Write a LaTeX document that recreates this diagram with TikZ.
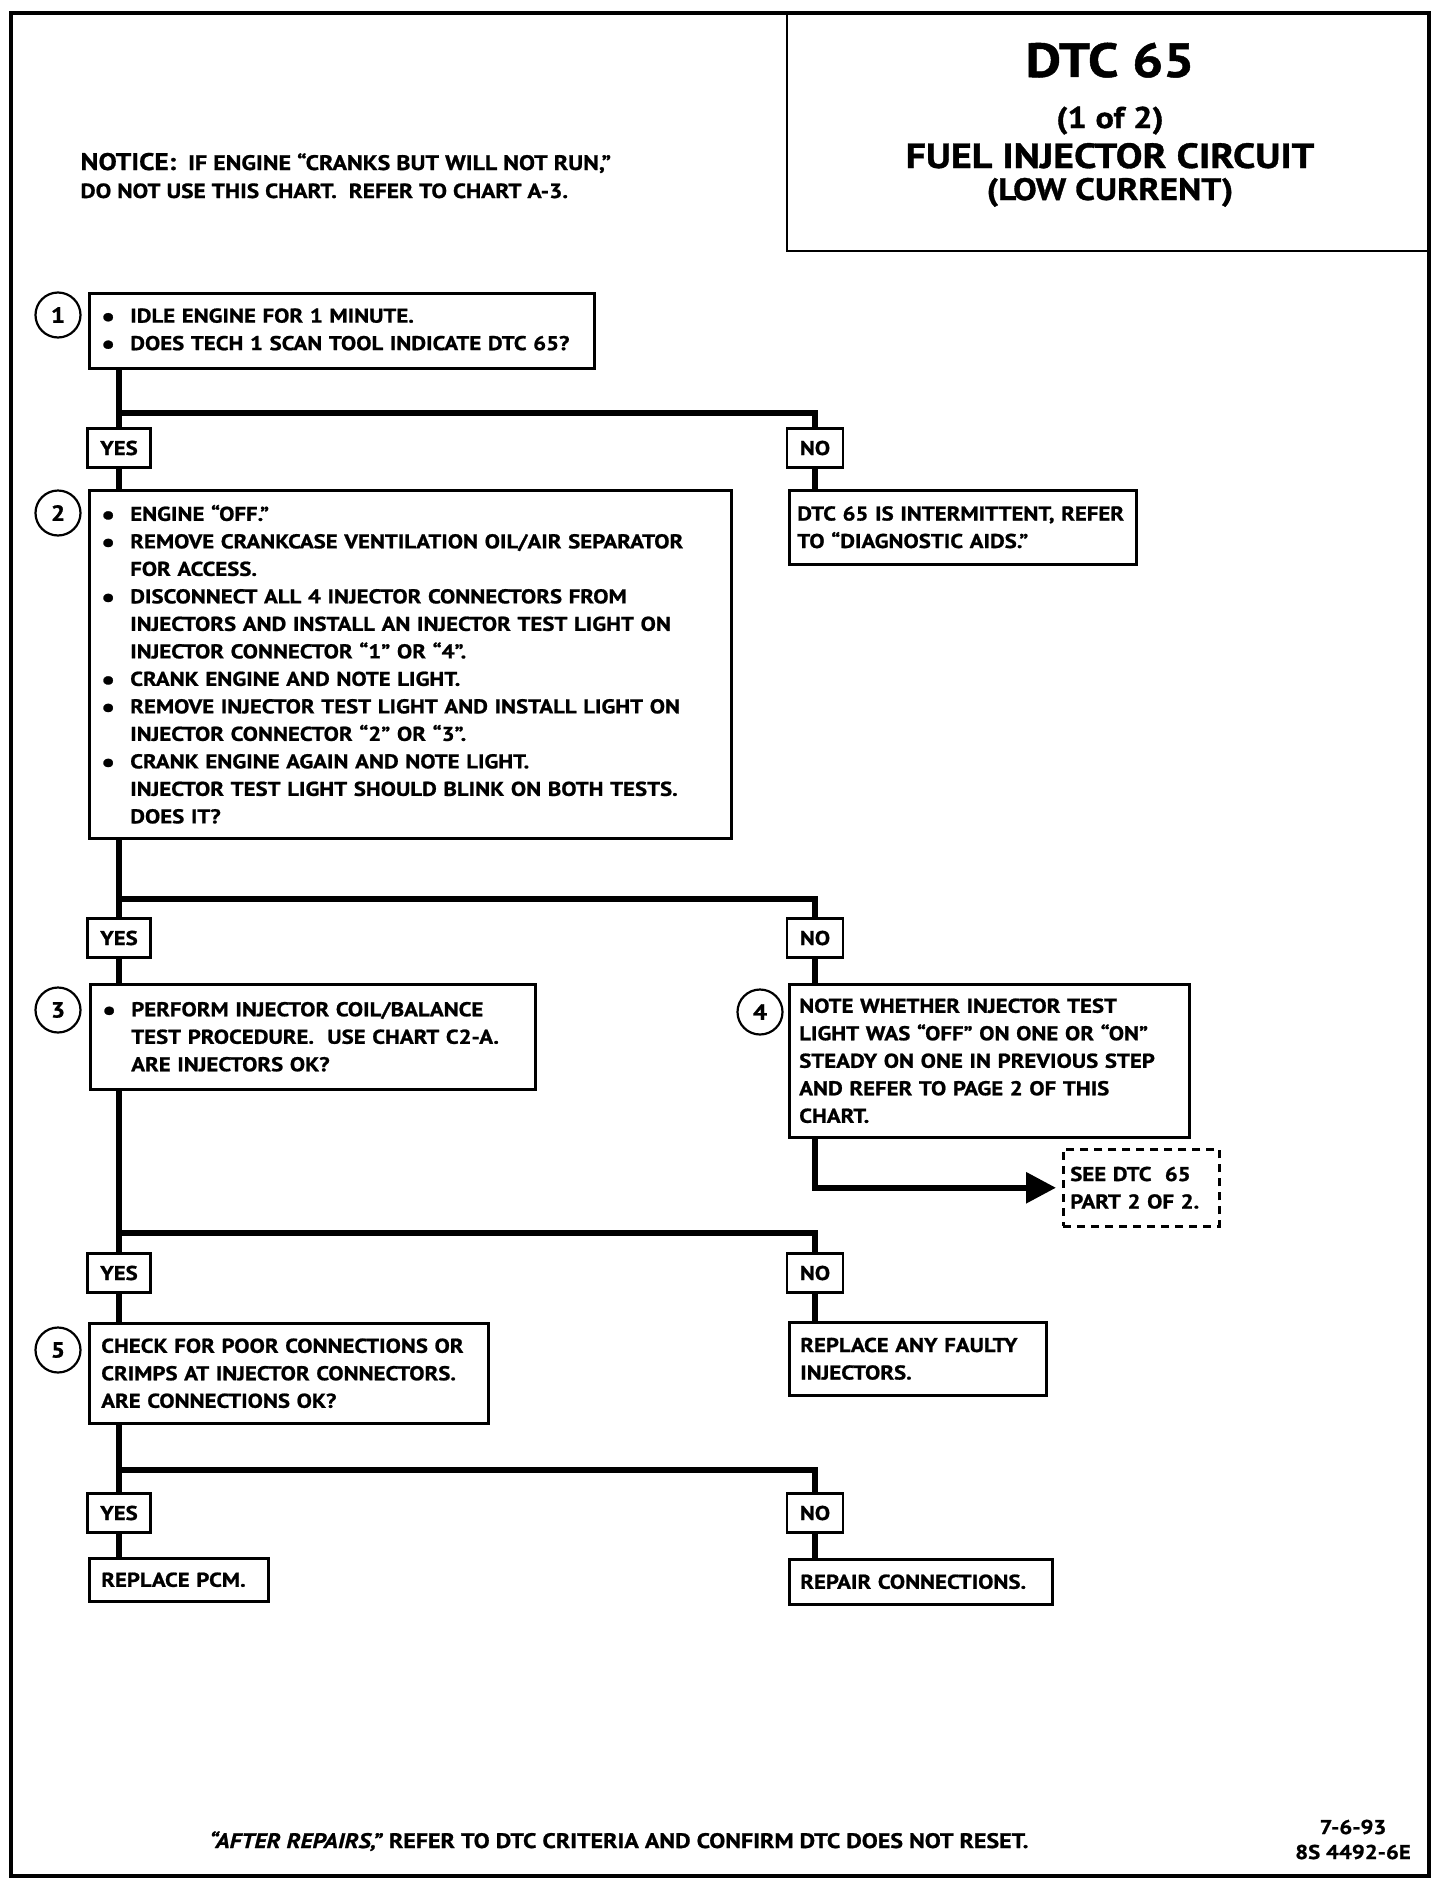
\documentclass[tikz,border=0pt]{standalone}
\usepackage{fontspec}
\setmainfont{PT Sans}[FakeStretch=1.14, BoldFeatures={FakeBold=1}, BoldItalicFeatures={FakeBold=1}]
\usetikzlibrary{arrows.meta, calc}
\newcommand\bodyfont{\fontsize{20}{27.5}\selectfont\bfseries}
\newcommand\itembul{\makebox[29pt][l]{\raisebox{-3pt}{\fontsize{27}{27}\selectfont\textbullet}}}
\newcommand\itemind{\hspace*{29pt}}
\tikzset{
  stepbox/.style={draw, line width=2.5pt, anchor=north west, align=left, inner xsep=12pt, inner ysep=4pt, font=\bodyfont},
  answer/.style={draw, line width=2.5pt, minimum height=39pt, inner sep=0pt, font=\bodyfont},
  stepnum/.style={circle, draw, line width=2.2pt, minimum size=45pt, inner sep=0pt, font=\fontsize{22}{22}\selectfont\bfseries},
  flow/.style={line width=6pt},
  linkbox/.style={stepbox, dashed, dash pattern=on 8pt off 6pt}
}

\begin{document}
\begin{tikzpicture}[x=1pt, y=-1pt]
\useasboundingbox (0,0) rectangle (1440,1884);
\draw[line width=4pt] (11,13) rectangle (1429,1876);

% title block
\draw[line width=2.5pt] (787,13) rectangle (1429,251);
\node[anchor=base, font=\fontsize{48}{48}\selectfont\bfseries] (t1) at (1110,77) {DTC 65};
\node[anchor=base, font=\fontsize{30}{30}\selectfont\bfseries] (t2) at (1110,128) {(1 of 2)};
\node[anchor=base, font=\fontsize{35}{35}\selectfont\bfseries] (t3) at (1110,168) {FUEL INJECTOR CIRCUIT};
\node[anchor=base, font=\fontsize{31}{31}\selectfont\bfseries] (t4) at (1110,200) {(LOW CURRENT)};

\node[anchor=base west, font=\fontsize{21}{21}\selectfont\bfseries] (n1) at (77,170)
  {{\fontsize{24}{24}\selectfont NOTICE:}\ \ IF ENGINE “CRANKS BUT WILL NOT RUN,”};
\node[anchor=base west, font=\fontsize{20.5}{20.5}\selectfont\bfseries] (n2) at (77,198)
  {DO NOT USE THIS CHART.\ \ REFER TO CHART A-3.};

% steps
\node[stepbox, text width=481pt, minimum height=75pt] (b1) at (88,292)
  {\itembul IDLE ENGINE FOR 1 MINUTE.\\
   \itembul DOES TECH 1 SCAN TOOL INDICATE DTC 65?};
\node[stepbox, text width=618pt, minimum height=348pt] (b2) at (88,489)
  {\itembul ENGINE “OFF.”\\
   \itembul REMOVE CRANKCASE VENTILATION OIL/AIR SEPARATOR\\
   \itemind FOR ACCESS.\\
   \itembul DISCONNECT ALL 4 INJECTOR CONNECTORS FROM\\
   \itemind INJECTORS AND INSTALL AN INJECTOR TEST LIGHT ON\\
   \itemind INJECTOR CONNECTOR “1” OR “4”.\\
   \itembul CRANK ENGINE AND NOTE LIGHT.\\
   \itembul REMOVE INJECTOR TEST LIGHT AND INSTALL LIGHT ON\\
   \itemind INJECTOR CONNECTOR “2” OR “3”.\\
   \itembul CRANK ENGINE AGAIN AND NOTE LIGHT.\\
   \itemind INJECTOR TEST LIGHT SHOULD BLINK ON BOTH TESTS.\\
   \itemind DOES IT?};
\node[stepbox, text width=331pt, minimum height=74pt, inner xsep=8pt] (r1) at (788,489)
  {DTC 65 IS INTERMITTENT, REFER\\
   TO “DIAGNOSTIC AIDS.”};
\node[stepbox, text width=421pt, minimum height=105pt] (b3) at (89,983)
  {\itembul PERFORM INJECTOR COIL/BALANCE\\
   \itemind TEST PROCEDURE.\ \ USE CHART C2-A.\\
   \itemind ARE INJECTORS OK?};
\node[stepbox, text width=380pt, minimum height=153pt, inner xsep=10pt, inner ysep=2pt] (r2) at (788,983)
  {NOTE WHETHER INJECTOR TEST\\
   LIGHT WAS “OFF” ON ONE OR “ON”\\
   STEADY ON ONE IN PREVIOUS STEP\\
   AND REFER TO PAGE 2 OF THIS\\
   CHART.};
\node[linkbox, text width=142pt, minimum height=77pt, inner xsep=7pt] (see) at (1062,1148)
  {SEE DTC\ \ 65\\
   PART 2 OF 2.};
\node[stepbox, text width=375pt, minimum height=100pt] (b4) at (88,1322)
  {CHECK FOR POOR CONNECTIONS OR\\
   CRIMPS AT INJECTOR CONNECTORS.\\
   ARE CONNECTIONS OK?};
\node[stepbox, text width=235pt, minimum height=73pt, inner xsep=11pt] (r3) at (788,1321)
  {REPLACE ANY FAULTY\\
   INJECTORS.};
\node[stepbox, text width=155pt, minimum height=43pt] (pcm) at (88,1557) {REPLACE PCM.};
\node[stepbox, text width=241pt, minimum height=45pt, inner xsep=11pt] (rep) at (788,1558) {REPAIR CONNECTIONS.};

\node[stepnum] (s1) at (58,315) {1};
\node[stepnum] (s2) at (58,513) {2};
\node[stepnum] (s3) at (58,1010) {3};
\node[stepnum] (s4) at (760,1012) {4};
\node[stepnum] (s5) at (58,1350) {5};

% answers
\node[answer, minimum width=63pt] (yes1) at (119,448) {YES};
\node[answer, minimum width=56pt] (no1) at (815,448) {NO};
\node[answer, minimum width=63pt] (yes2) at (119,938) {YES};
\node[answer, minimum width=56pt] (no2) at (815,938) {NO};
\node[answer, minimum width=63pt] (yes3) at (119,1273) {YES};
\node[answer, minimum width=56pt] (no3) at (815,1273) {NO};
\node[answer, minimum width=63pt] (yes4) at (119,1513) {YES};
\node[answer, minimum width=56pt] (no4) at (815,1513) {NO};

\coordinate (j1) at (119,413);
\coordinate (j2) at (119,899);
\coordinate (j3) at (119,1233);
\coordinate (j4) at (119,1470);

% flow lines
\draw[flow] (yes1.north |- b1.south) -- (yes1.north);
\draw[flow] (j1) -| (no1.north);
\draw[flow] (yes1.south) -- (yes1.south |- b2.north);
\draw[flow] (no1.south) -- (no1.south |- r1.north);
\draw[flow] (yes2.north |- b2.south) -- (yes2.north);
\draw[flow] (j2) -| (no2.north);
\draw[flow] (yes2.south) -- (yes2.south |- b3.north);
\draw[flow] (no2.south) -- (no2.south |- r2.north);
\draw[flow, -{Triangle[length=30pt, width=30pt]}, shorten >=6pt] (no2.south |- r2.south) |- (see.west);
\draw[flow] (yes3.north |- b3.south) -- (yes3.north);
\draw[flow] (j3) -| (no3.north);
\draw[flow] (yes3.south) -- (yes3.south |- b4.north);
\draw[flow] (no3.south) -- (no3.south |- r3.north);
\draw[flow] (yes4.north |- b4.south) -- (yes4.north);
\draw[flow] (j4) -| (no4.north);
\draw[flow] (yes4.south) -- (yes4.south |- pcm.north);
\draw[flow] (no4.south) -- (no4.south |- rep.north);

% footer
\node[anchor=base, font=\fontsize{21}{21}\selectfont\bfseries] (foot) at (619,1848)
  {\textit{“AFTER REPAIRS,”} REFER TO DTC CRITERIA AND CONFIRM DTC DOES NOT RESET.};
\node[anchor=base, font=\fontsize{20}{20}\selectfont\bfseries] (d1) at (1353,1834) {7-6-93};
\node[anchor=base, font=\fontsize{20}{20}\selectfont\bfseries] (d2) at (1353,1859) {8S 4492-6E};
\end{tikzpicture}
\end{document}
